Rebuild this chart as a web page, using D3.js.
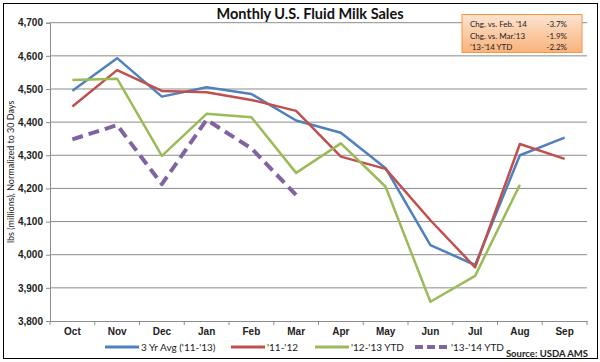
<!DOCTYPE html>
<html>
<head>
<meta charset="utf-8">
<script src="https://cdn.jsdelivr.net/npm/d3@7"></script>
<style>
  body { margin: 0; background: #fff; }
  svg { font-family: Lato, "Open Sans", sans-serif; }
</style>
</head>
<body>
<div id="chart"></div>
<script>
var svgWidth = 600;
var svgHeight = 362;

var months = ["Oct", "Nov", "Dec", "Jan", "Feb", "Mar", "Apr", "May", "Jun", "Jul", "Aug", "Sep"];
var avg3yr = [4495, 4593, 4477, 4505, 4485, 4405, 4368, 4261, 4029, 3969, 4300, 4353];
var y1112 = [4447, 4557, 4494, 4490, 4467, 4434, 4296, 4259, 4104, 3962, 4334, 4289];
var y1213 = [4527, 4531, 4298, 4425, 4415, 4247, 4336, 4205, 3858, 3936, 4211];
var y1314 = [4348, 4391, 4213, 4407, 4321, 4180];
var yTicks = [3800, 3900, 4000, 4100, 4200, 4300, 4400, 4500, 4600, 4700];
var boxRows = [["Chg. vs. Feb. '14", "-3.7%"], ["Chg. vs. Mar.'13", "-1.9%"], ["'13-'14 YTD", "-2.2%"]];

var series = [
  { name: "3 Yr Avg ('11-'13)", values: avg3yr, color: "#4F81BD", width: 2.5, dash: null },
  { name: "'11-'12", values: y1112, color: "#C0504D", width: 2.5, dash: null },
  { name: "'12-'13 YTD", values: y1213, color: "#9BBB59", width: 2.5, dash: null },
  { name: "'13-'14 YTD", values: y1314, color: "#8064A2", width: 4, dash: "11,6" }
];

var margin = { top: 22.7, right: 13, bottom: 41, left: 50 };
var width = svgWidth - margin.left - margin.right;
var height = svgHeight - margin.top - margin.bottom;

var svg = d3.select("#chart")
  .append("svg")
  .attr("width", svgWidth)
  .attr("height", svgHeight);

// outer border
svg.append("rect")
  .attr("x", 3.5).attr("y", 3.5)
  .attr("width", 594).attr("height", 355)
  .attr("fill", "none")
  .attr("stroke", "#000")
  .attr("stroke-width", 1);

var g = svg.append("g")
  .attr("transform", `translate(${margin.left}, ${margin.top})`);

var x = d3.scaleBand().domain(months).range([0, width]);
var y = d3.scaleLinear().domain([3800, 4700]).range([height, 0]);

// gridlines
g.selectAll(".grid")
  .data(yTicks.filter(d => d > 3800))
  .enter()
  .append("line")
  .attr("x1", 0).attr("x2", width)
  .attr("y1", d => y(d)).attr("y2", d => y(d))
  .attr("stroke", "#8c8c8c")
  .attr("stroke-width", 1);

// y axis
var yAxis = g.append("g")
  .call(d3.axisLeft(y).tickValues(yTicks).tickSize(4).tickFormat(d3.format(",")));
yAxis.select(".domain").attr("stroke", "#8c8c8c");
yAxis.selectAll(".tick line").attr("stroke", "#8c8c8c");
yAxis.selectAll("text")
  .attr("font-size", "10px")
  .attr("font-weight", "bold")
  .attr("fill", "#222")
  .attr("x", -7);

// x axis
var xAxis = g.append("g")
  .attr("transform", `translate(0, ${height})`)
  .call(d3.axisBottom(x).tickSize(0));
xAxis.select(".domain").attr("stroke", "#8c8c8c");
xAxis.selectAll("text")
  .attr("font-size", "10px")
  .attr("font-weight", "bold")
  .attr("fill", "#222")
  .attr("y", 7)
  .attr("dy", "0.71em");
// tick marks between categories
g.selectAll(".xtick")
  .data(months.concat(["end"]))
  .enter()
  .append("line")
  .attr("x1", (d, i) => i * x.bandwidth())
  .attr("x2", (d, i) => i * x.bandwidth())
  .attr("y1", height).attr("y2", height + 4)
  .attr("stroke", "#8c8c8c");

// lines
var line = d3.line()
  .x((d, i) => x(months[i]) + x.bandwidth() / 2)
  .y(d => y(d));

series.forEach(function(s) {
  g.append("path")
    .datum(s.values)
    .attr("d", line)
    .attr("fill", "none")
    .attr("stroke", s.color)
    .attr("stroke-width", s.width)
    .attr("stroke-dasharray", s.dash)
    .attr("stroke-linejoin", "round");
});

// title
svg.append("text")
  .attr("x", 310).attr("y", 19)
  .attr("text-anchor", "middle")
  .attr("font-size", "14.5px")
  .attr("font-weight", "bold")
  .attr("fill", "#111")
  .text("Monthly U.S. Fluid Milk Sales");

// y label
svg.append("text")
  .attr("transform", `translate(14, ${margin.top + height / 2}) rotate(-90)`)
  .attr("text-anchor", "middle")
  .attr("font-size", "9px")
  .attr("fill", "#222")
  .text("lbs (millions), Normalized to 30 Days");

// info box
var defs = svg.append("defs");
var grad = defs.append("linearGradient")
  .attr("id", "boxGrad")
  .attr("x1", 0).attr("y1", 0).attr("x2", 0).attr("y2", 1);
grad.append("stop").attr("offset", "0%").attr("stop-color", "#FDE4D0");
grad.append("stop").attr("offset", "100%").attr("stop-color", "#F9B27A");

svg.append("rect")
  .attr("x", 462).attr("y", 14.5)
  .attr("width", 120).attr("height", 38)
  .attr("fill", "url(#boxGrad)")
  .attr("stroke", "#F79646")
  .attr("stroke-width", 1);

var box = svg.append("g");
boxRows.forEach(function(r, i) {
  box.append("text")
    .attr("x", 470).attr("y", 27 + i * 11.5)
    .attr("font-size", "8px")
    .attr("fill", "#222")
    .text(r[0]);
  box.append("text")
    .attr("x", 567).attr("y", 27 + i * 11.5)
    .attr("text-anchor", "end")
    .attr("font-size", "8px")
    .attr("fill", "#222")
    .text(r[1]);
});

// legend
var legendX = [105, 231, 315, 415];
var leg = svg.append("g");
series.forEach(function(s, i) {
  leg.append("line")
    .attr("x1", legendX[i]).attr("x2", legendX[i] + 34)
    .attr("y1", 347).attr("y2", 347)
    .attr("stroke", s.color)
    .attr("stroke-width", s.dash ? 4 : 3)
    .attr("stroke-dasharray", s.dash ? "8,4" : null);
  leg.append("text")
    .attr("x", legendX[i] + 36).attr("y", 350.5)
    .attr("font-size", "10px")
    .attr("fill", "#222")
    .text(s.name);
});

svg.append("text")
  .attr("x", 588).attr("y", 357)
  .attr("text-anchor", "end")
  .attr("font-size", "9.5px")
  .attr("font-weight", "bold")
  .attr("fill", "#222")
  .text("Source: USDA AMS");
</script>
</body>
</html>
